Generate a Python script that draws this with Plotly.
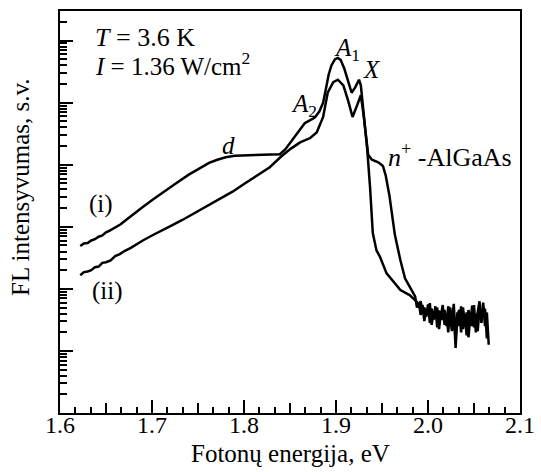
import plotly.graph_objects as go

# ---- data ----
energy_i = [1.622, 1.626, 1.630, 1.634, 1.638, 1.642, 1.646, 1.650, 1.654, 1.658, 1.662, 1.666,
            1.670, 1.675, 1.680, 1.690, 1.701, 1.712, 1.727, 1.740, 1.752, 1.762, 1.771, 1.780,
            1.790, 1.800, 1.810, 1.820, 1.830, 1.839, 1.845, 1.850, 1.856, 1.861, 1.866, 1.872,
            1.877, 1.882, 1.886, 1.889, 1.892, 1.895, 1.899, 1.902, 1.905, 1.909, 1.913, 1.917,
            1.921, 1.925, 1.927, 1.930, 1.934, 1.937, 1.940, 1.944, 1.948, 1.955, 1.961, 1.970,
            1.980, 1.988, 1.990, 1.992, 1.994, 1.996, 1.998, 2.000, 2.002, 2.004, 2.006, 2.008,
            2.010, 2.012, 2.014, 2.016, 2.018, 2.020, 2.022, 2.024, 2.026, 2.028, 2.030, 2.032,
            2.034, 2.036, 2.038, 2.040, 2.042, 2.044, 2.046, 2.048, 2.050, 2.052, 2.054, 2.056,
            2.058, 2.060, 2.062, 2.064, 2.066]
log_int_i = [2.69, 2.73, 2.74, 2.78, 2.80, 2.84, 2.86, 2.91, 2.94, 2.97, 3.01, 3.04,
             3.09, 3.15, 3.21, 3.32, 3.44, 3.56, 3.71, 3.84, 3.95, 4.03, 4.08, 4.12,
             4.145, 4.15, 4.15, 4.15, 4.155, 4.17, 4.25, 4.35, 4.48, 4.59, 4.67, 4.72,
             4.76, 4.86, 5.00, 5.22, 5.45, 5.60, 5.70, 5.72, 5.69, 5.55, 5.35, 5.16,
             5.25, 5.37, 5.28, 4.85, 4.24, 3.64, 2.90, 2.62, 2.51, 2.25, 2.14, 1.98,
             1.90, 1.79, 1.72, 1.80, 1.62, 1.70, 1.55, 1.75, 1.45, 1.68, 1.50, 1.72,
             1.38, 1.65, 1.55, 1.74, 1.42, 1.60, 1.30, 1.70, 1.48, 1.76, 1.20, 1.62,
             1.40, 1.72, 1.35, 1.58, 1.25, 1.66, 1.45, 1.73, 1.38, 1.60, 1.32, 1.68,
             1.50, 1.78, 1.40, 1.62, 1.10]

energy_ii = [1.622, 1.626, 1.630, 1.634, 1.638, 1.642, 1.646, 1.650, 1.655, 1.660, 1.665, 1.670,
             1.677, 1.684, 1.690, 1.700, 1.710, 1.720, 1.733, 1.745, 1.752, 1.763, 1.774, 1.788,
             1.800, 1.814, 1.828, 1.841, 1.851, 1.861, 1.872, 1.879, 1.886, 1.891, 1.897, 1.902,
             1.908, 1.913, 1.918, 1.923, 1.927, 1.930, 1.933, 1.935, 1.939, 1.946, 1.951, 1.954,
             1.958, 1.961, 1.964, 1.970, 1.975, 1.984, 1.986, 1.988, 1.990, 1.992, 1.994, 1.996,
             1.998, 2.000, 2.002, 2.004, 2.006, 2.008, 2.010, 2.012, 2.014, 2.016, 2.018, 2.020,
             2.022, 2.024, 2.026, 2.028, 2.030, 2.032, 2.034, 2.036, 2.038, 2.040, 2.042, 2.044,
             2.046, 2.048, 2.050, 2.052, 2.054, 2.056, 2.058, 2.060, 2.062, 2.064]
log_int_ii = [2.22, 2.27, 2.28, 2.30, 2.35, 2.36, 2.42, 2.43, 2.46, 2.53, 2.56, 2.61,
              2.66, 2.73, 2.78, 2.86, 2.94, 3.01, 3.11, 3.21, 3.27, 3.35, 3.44, 3.57,
              3.69, 3.82, 3.96, 4.14, 4.26, 4.36, 4.43, 4.52, 4.77, 5.16, 5.33, 5.37,
              5.28, 5.04, 4.77, 4.96, 5.12, 4.80, 4.40, 4.16, 4.08, 4.04, 3.98, 3.83,
              3.51, 3.19, 2.87, 2.46, 2.17, 1.93, 1.88, 1.70, 1.78, 1.58, 1.74, 1.48,
              1.66, 1.60, 1.77, 1.42, 1.64, 1.52, 1.70, 1.35, 1.60, 1.50, 1.66, 1.40,
              1.72, 1.55, 1.32, 1.62, 1.05, 1.58, 1.66, 1.30, 1.70, 1.45, 1.62, 1.22,
              1.55, 1.40, 1.74, 1.30, 1.62, 1.80, 1.45, 1.62, 1.68, 1.20]

x_mid_ticks = [1.65, 1.75, 1.85, 1.95, 2.05]

intensity_i = [10 ** v for v in log_int_i]
intensity_ii = [10 ** v for v in log_int_ii]

# ---- layout geometry (pixels) ----
W, H = 541, 472
L, R, T, B = 60, 520, 11, 413
FONT = "Liberation Serif"


def px(x):
    return (x - L) / (R - L)


def py(y):
    return (B - y) / (B - T)


fig = go.Figure()
line_style = dict(color="black", width=2.5)
fig.add_trace(go.Scatter(x=energy_i, y=intensity_i, mode="lines", line=line_style,
                         showlegend=False))
fig.add_trace(go.Scatter(x=energy_ii, y=intensity_ii, mode="lines", line=line_style,
                         showlegend=False))
# invisible trace to activate xaxis2 (medium ticks)
fig.add_trace(go.Scatter(x=[1.6], y=[1], xaxis="x2", mode="markers",
                         marker=dict(opacity=0), showlegend=False, hoverinfo="skip"))

fig.update_layout(
    width=W, height=H,
    margin=dict(l=L, r=W - R, t=T, b=H - B),
    paper_bgcolor="white", plot_bgcolor="white",
    font=dict(family=FONT, size=24, color="black"),
    xaxis=dict(range=[1.6, 2.1], tick0=1.6, dtick=0.1, tickformat=".1f",
               ticks="inside", ticklen=13, tickwidth=2, tickcolor="black",
               minor=dict(tick0=1.6, dtick=0.1 / 6, ticks="inside", ticklen=6,
                          tickwidth=1.5, tickcolor="black", showgrid=False),
               showline=True, linecolor="black", linewidth=2, mirror=True,
               showgrid=False, zeroline=False, automargin=False,
               ticklabelstandoff=-11,
               tickfont=dict(family=FONT, size=24, color="black")),
    xaxis2=dict(range=[1.6, 2.1], overlaying="x", anchor="y", side="bottom",
                tickvals=x_mid_ticks, showticklabels=False,
                ticks="inside", ticklen=10, tickwidth=1.5, tickcolor="black",
                showline=False, showgrid=False, zeroline=False, automargin=False),
    yaxis=dict(type="log", range=[0, 6.477], dtick=1, showticklabels=False,
               ticks="inside", ticklen=13, tickwidth=2, tickcolor="black",
               minor=dict(dtick="D1", ticks="inside", ticklen=7, tickwidth=1.5,
                          tickcolor="black"),
               showline=True, linecolor="black", linewidth=2, mirror=True,
               showgrid=False, zeroline=False, automargin=False),
)

ann = []


def add(text, x, y, xanchor="center", size=25):
    ann.append(dict(text=text, x=px(x), y=py(y), xref="paper", yref="paper",
                    xanchor=xanchor, yanchor="middle", showarrow=False,
                    font=dict(family=FONT, size=size, color="black")))


add("<i>T</i> = 3.6 K", 93, 37, xanchor="left", size=26)
add("<i>I</i> = 1.36 W/cm<sup>2</sup>", 93, 64, xanchor="left")
add("<i>d</i>", 228, 145)
add("(i)", 101, 204)
add("(ii)", 107, 291)
add("<i>A</i><sub>2</sub>", 304, 106)
add("<i>A</i><sub>1</sub>", 347, 49)
add("<i>X</i>", 372, 69)
add("<i>n</i><sup>+</sup> -AlGaAs", 386, 155, xanchor="left", size=26)
add("Fotonų energija, eV", 290, 453)
ann.append(dict(text="FL intensyvumas, s.v.", x=px(20), y=py(187), xref="paper",
                yref="paper", xanchor="center", yanchor="middle", textangle=-90,
                showarrow=False, font=dict(family=FONT, size=25, color="black")))
fig.update_layout(annotations=ann)

fig.write_html("out.html")
